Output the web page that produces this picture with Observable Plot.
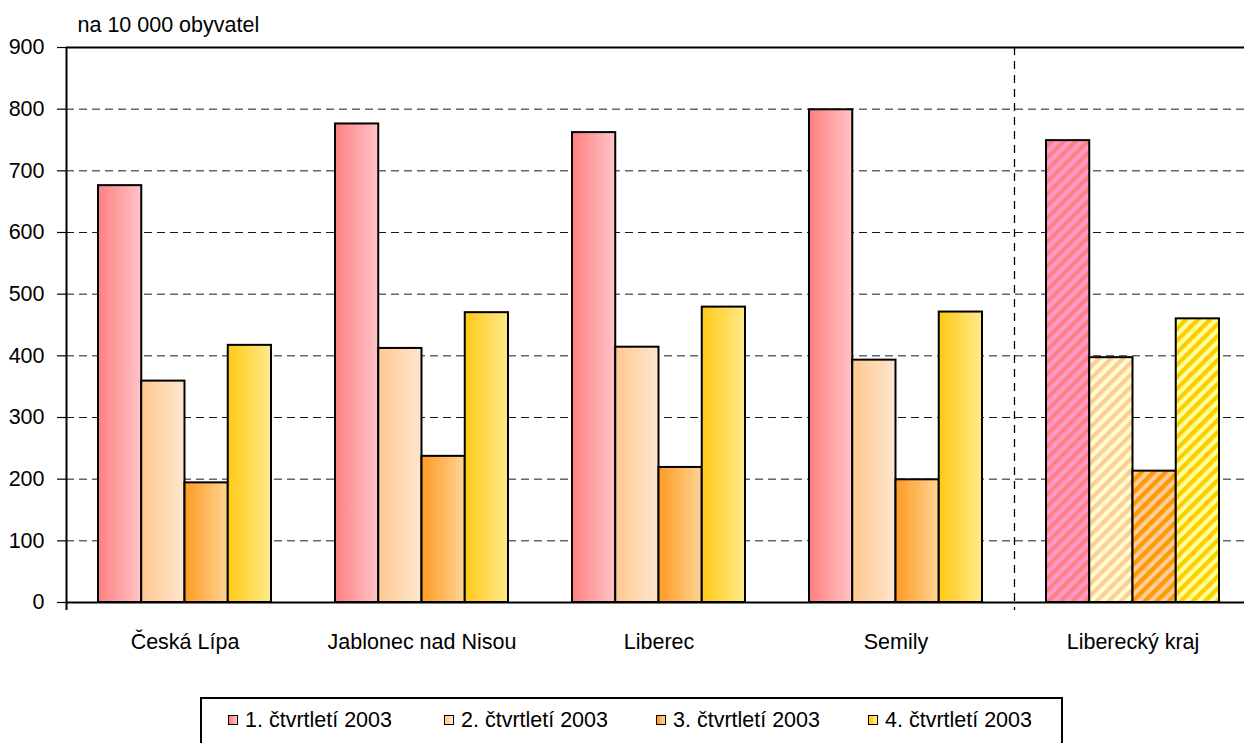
<!DOCTYPE html>
<html>
<head>
<meta charset="utf-8">
<script src="https://cdn.jsdelivr.net/npm/d3@7"></script>
<script src="https://cdn.jsdelivr.net/npm/@observablehq/plot@0.6"></script>
<style>
  html, body { margin: 0; padding: 0; background: #fff; }
  #chart { position: relative; width: 1244px; height: 743px; overflow: hidden; font-family: "Liberation Sans", Arial, sans-serif; }
  #legend { position: absolute; left: 200px; top: 697px; width: 863px; height: 50px; border: 2px solid #000; box-sizing: border-box; }
  .item { position: absolute; top: 10px; display: flex; align-items: center; font-size: 21.5px; line-height: 22px; color: #000; white-space: nowrap; }
  .sw { width: 8px; height: 8px; border: 1.6px solid #000; margin-right: 7px; }
</style>
</head>
<body>
<div id="chart"></div>
<script>
const categories = ["Česká Lípa", "Jablonec nad Nisou", "Liberec", "Semily", "Liberecký kraj"];
const quarters = ["1. čtvrtletí 2003", "2. čtvrtletí 2003", "3. čtvrtletí 2003", "4. čtvrtletí 2003"];
const q1 = [676, 776, 762, 799, 749];
const q2 = [359, 412, 414, 393, 397];
const q3 = [194, 237, 219, 199, 213];
const q4 = [417, 470, 479, 471, 460];
const yTicks = [0, 100, 200, 300, 400, 500, 600, 700, 800, 900];
const regionCategory = "Liberecký kraj";

// styles
const gradientStops = [["#ff8080", "#ffc4c8"], ["#ffc890", "#ffe6cf"], ["#ff9a22", "#ffd494"], ["#ffc914", "#ffe98c"]];
const hatchColors = [["#ff99cc", "#ff8080"], ["#ffffcc", "#ffcc99"], ["#ffcc99", "#ff9900"], ["#ffff99", "#ffcc00"]];
const legendLefts = [26, 242, 454, 666];

const series = [q1, q2, q3, q4];
const rows = categories.flatMap((c, j) => series.map((s, i) => ({category: c, qi: i, value: s[j]})));

const xRange = [66, 1251];
const padIn = 0.27, padOut = 0.135;
const step = (xRange[1] - xRange[0]) / (categories.length - padIn + 2 * padOut);
const bw = step * (1 - padIn) / 4;

const marks = [
  Plot.gridY(yTicks.filter(t => t > 0 && t < 900), {stroke: "#000", strokeOpacity: 0.9, strokeDasharray: "8,5", strokeWidth: 1}),
  Plot.ruleX([regionCategory], {dx: -step / 2, stroke: "#000", strokeWidth: 1.3, strokeDasharray: "8,6", insetBottom: -8})
];
for (let i = 0; i < 4; i++) {
  marks.push(Plot.barY(rows.filter(d => d.qi === i && d.category !== regionCategory), {
    x: "category", y: "value", fill: `url(#grad${i})`, stroke: "#000", strokeWidth: 2,
    insetLeft: i * bw, insetRight: (3 - i) * bw
  }));
  marks.push(Plot.barY(rows.filter(d => d.qi === i && d.category === regionCategory), {
    x: "category", y: "value", fill: `url(#hatch${i})`, stroke: "#000", strokeWidth: 2,
    insetLeft: i * bw, insetRight: (3 - i) * bw
  }));
}
marks.push(
  Plot.ruleY([0, 900], {stroke: "#000", strokeWidth: 2}),
  Plot.ruleX([categories[0]], {dx: -step / 2, stroke: "#000", strokeWidth: 2, insetBottom: -8}),
  Plot.axisY({ticks: yTicks, tickSize: 9, tickPadding: 13, tickFormat: d => String(d), fontSize: 21.5, label: null, strokeWidth: 1.2}),
  Plot.axisX({tickSize: 0, tickPadding: 31, fontSize: 21.5, label: null}),
  Plot.text(["na 10 000 obyvatel"], {frameAnchor: "top-left", dx: 11, dy: -22, textAnchor: "start", lineAnchor: "middle", fontSize: 21.5})
);

const svg = Plot.plot({
  width: 1244, height: 690,
  marginLeft: 66, marginRight: 0, marginTop: 47, marginBottom: 88,
  style: {fontFamily: "'Liberation Sans', Arial, sans-serif", fontSize: "21.5px", color: "#000", background: "#fff", overflow: "visible"},
  x: {domain: categories, range: xRange, paddingInner: padIn, paddingOuter: padOut},
  y: {domain: [0, 900]},
  marks
});

const defs = d3.select(svg).insert("defs", ":first-child");
gradientStops.forEach(([a, b], i) => {
  const g = defs.append("linearGradient").attr("id", "grad" + i).attr("x1", 0).attr("x2", 1).attr("y1", 0).attr("y2", 0);
  g.append("stop").attr("offset", "0%").attr("stop-color", a);
  g.append("stop").attr("offset", "100%").attr("stop-color", b);
});
hatchColors.forEach(([bg, fg], i) => {
  const p = defs.append("pattern").attr("id", "hatch" + i).attr("patternUnits", "userSpaceOnUse")
    .attr("width", 8.5).attr("height", 8.5).attr("patternTransform", "rotate(45)");
  p.append("rect").attr("width", 8.5).attr("height", 8.5).attr("fill", bg);
  p.append("rect").attr("width", 4.25).attr("height", 8.5).attr("fill", fg);
});

const chart = document.getElementById("chart");
chart.appendChild(svg);

const legend = document.createElement("div");
legend.id = "legend";
quarters.forEach((q, i) => {
  const item = document.createElement("div");
  item.className = "item";
  item.style.left = legendLefts[i] + "px";
  const sw = document.createElement("span");
  sw.className = "sw";
  sw.style.background = `linear-gradient(to right, ${gradientStops[i][0]}, ${gradientStops[i][1]})`;
  const t = document.createElement("span");
  t.textContent = q;
  item.appendChild(sw);
  item.appendChild(t);
  legend.appendChild(item);
});
chart.appendChild(legend);
</script>
</body>
</html>
